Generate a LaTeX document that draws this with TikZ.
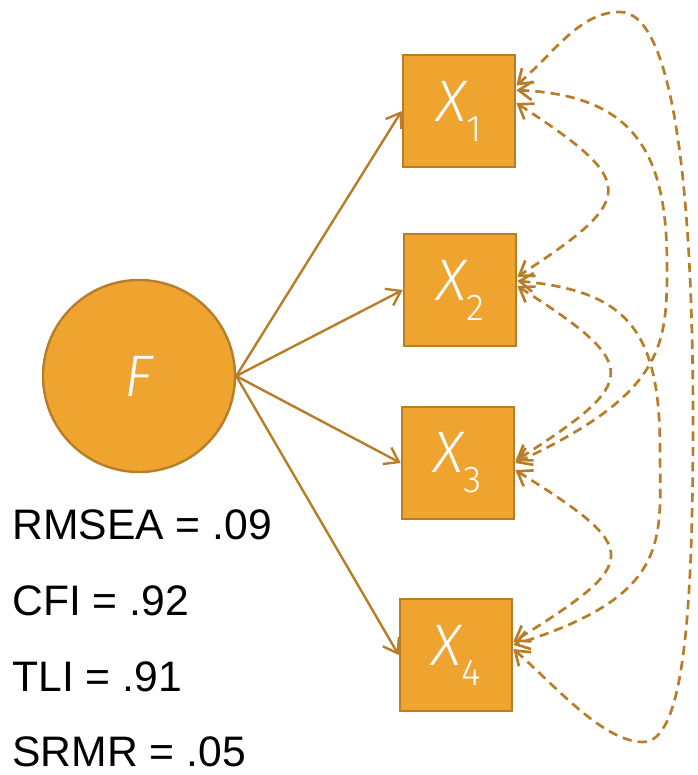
\documentclass[tikz,border=0pt]{standalone}
\usepackage{fontspec}
\setmainfont{Liberation Sans}
\newfontfamily\lightfont{Fira Sans Light}[ItalicFont={Fira Sans Light Italic}]
\usetikzlibrary{arrows.meta}
\definecolor{semfill}{RGB}{239,164,48}
\definecolor{semline}{RGB}{183,125,40}
\newcommand{\obslab}[1]{{\lightfont\fontsize{44}{44}\selectfont\itshape X}\raisebox{-15pt}{\lightfont\fontsize{28}{28}\selectfont #1}}

\begin{document}
\begin{tikzpicture}[x=0.75pt,y=0.75pt,yscale=-1,xscale=1,
  latent/.style={circle,draw=semline,fill=semfill,line width=1.8pt,minimum size=144pt,inner sep=0pt,text=white},
  manifest/.style={rectangle,draw=semline,fill=semfill,line width=2pt,minimum size=84pt,inner sep=0pt,text=white},
  load/.style={draw=semline,line width=1.8pt,-{Straight Barb[length=10pt,width=14pt]}},
  cov/.style={draw=semline,line width=2pt,dash pattern=on 7pt off 4.5pt,{Straight Barb[length=10pt,width=14pt]}-{Straight Barb[length=10pt,width=14pt]}},
  fitidx/.style={anchor=base west,inner sep=0pt,font=\fontsize{32}{32}\selectfont}]
\useasboundingbox (0,0) rectangle (698,775);

%Shape: Circle
\node [latent] (F) at (139,376) {\lightfont\fontsize{44}{44}\selectfont\itshape F};
%Shape: Square
\node [manifest] (X1) at (459,111) {\obslab{1}};
%Shape: Square
\node [manifest] (X2) at (460,290) {\obslab{2}};
%Shape: Square
\node [manifest] (X3) at (458,463) {\obslab{3}};
%Shape: Square
\node [manifest] (X4) at (456,655) {\obslab{4}};

%Straight Lines
\draw [load] (F.east) -- (X1.west);
\draw [load] (F.east) -- (X2.west);
\draw [load] (F.east) -- (X3.west);
\draw [load] (F.east) -- (X4.west);

%Curve Lines
\draw [cov] (X1.8) .. controls +(121,79) and +(121,-79) .. (X2.13);
\draw [cov] (X2.4) .. controls +(125,80) and +(125,-80) .. (X3.2);
\draw [cov] (X3.-7) .. controls +(128,80) and +(128,-80) .. (X4.13);
\draw [cov] (X1.20) .. controls +(120,5) and +(0,-110) .. (667,265) .. controls +(0,80) and +(150,-70) .. (X3.0);
\draw [cov] (X2.9) .. controls +(110,10) and +(0,-120) .. (660,450) .. controls +(0,90) and +(160,-50) .. (X4.10);
\draw [cov] (X1.24) .. controls +(40,-35) and +(-40,0) .. (620,12) .. controls +(55,0) and +(0,-220) .. (693,420) .. controls +(0,200) and +(40,0) .. (643,742) .. controls +(-40,0) and +(40,35) .. (X4.6);

% Text Node
\node [fitidx] (rmsea) at (12,539) {RMSEA = .09};
% Text Node
\node [fitidx] (cfi) at (12,615) {CFI = .92};
% Text Node
\node [fitidx] (tli) at (12,691) {TLI = .91};
% Text Node
\node [fitidx] (srmr) at (12,766) {SRMR = .05};
\end{tikzpicture}
\end{document}
